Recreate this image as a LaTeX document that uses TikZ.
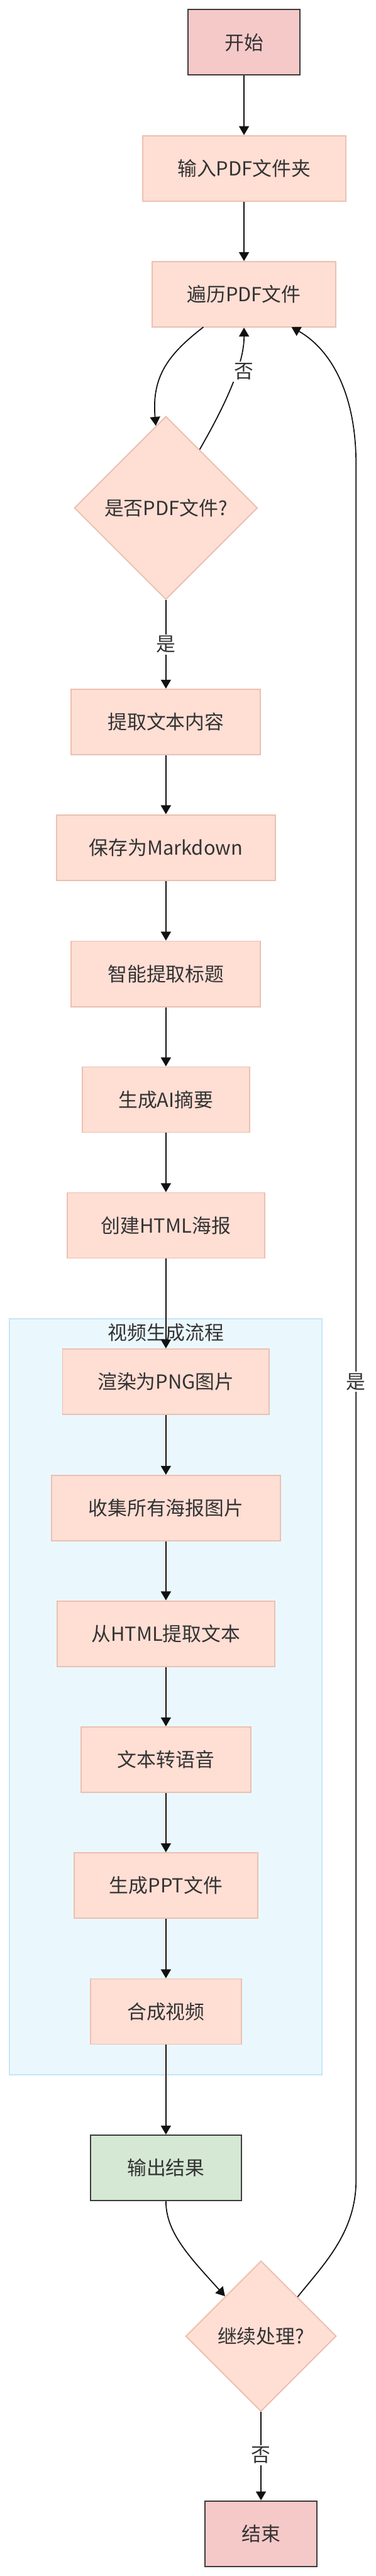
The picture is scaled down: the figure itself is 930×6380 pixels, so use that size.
\documentclass[tikz,border=0pt]{standalone}
\usepackage{fontspec}
\setmainfont{Noto Sans CJK SC}
\usetikzlibrary{shapes.geometric,arrows.meta}
\definecolor{procfill}{HTML}{FFDED4}
\definecolor{procdraw}{HTML}{EBC0B0}
\definecolor{termfill}{HTML}{F6C9C9}
\definecolor{outfill}{HTML}{D5E8D4}
\definecolor{darkdraw}{HTML}{3C3C3C}
\definecolor{clfill}{HTML}{EAF8FE}
\definecolor{cldraw}{HTML}{C5E6F4}
\definecolor{txt}{HTML}{333333}
\definecolor{edgecol}{HTML}{111111}
\begin{document}
\begin{tikzpicture}[x=0.5pt,y=-0.5pt,
  font=\fontsize{24}{28}\selectfont,
  proc/.style={rectangle, draw=procdraw, fill=procfill, line width=1.5pt, text=txt, minimum height=81pt, inner sep=0pt},
  term/.style={proc, draw=darkdraw, fill=termfill},
  outp/.style={proc, draw=darkdraw, fill=outfill},
  dec/.style={diamond, aspect=1, draw=procdraw, fill=procfill, line width=1.5pt, text=txt, inner sep=0pt},
  conn/.style={draw=edgecol, line width=1.35pt, -{Triangle[length=11pt,width=12.5pt]}},
  lbl/.style={fill=white, text=txt, inner sep=2pt},
  cluster/.style={draw=cldraw, fill=clfill, line width=1.5pt}]
\useasboundingbox (0,0) rectangle (930,6380);
\fill[white] (0,0) rectangle (930,6380);

% cluster
\draw[cluster] (23,3266) rectangle (798,5138);
\node[text=txt] (cltitle) at (411,3301) {视频生成流程};

% nodes
\node[term, minimum width=138.5pt] (start) at (604.5,105) {开始};
\node[proc, minimum width=251.5pt] (input) at (604.5,417) {输入PDF文件夹};
\node[proc, minimum width=227.5pt] (trav) at (604.5,729) {遍历PDF文件};
\node[dec, minimum width=227pt, minimum height=227pt] (ispdf) at (411,1258) {是否PDF文件?};
\node[proc, minimum width=234.5pt] (extract) at (411,1788) {提取文本内容};
\node[proc, minimum width=271pt] (md) at (411,2099) {保存为Markdown};
\node[proc, minimum width=234.5pt] (title) at (411,2412) {智能提取标题};
\node[proc, minimum width=207.5pt] (ai) at (411,2723.5) {生成AI摘要};
\node[proc, minimum width=245pt] (html) at (411,3035) {创建HTML海报};
\node[proc, minimum width=256pt] (render) at (411,3422) {渲染为PNG图片};
\node[proc, minimum width=283pt] (collect) at (411,3735) {收集所有海报图片};
\node[proc, minimum width=269.5pt] (fromhtml) at (411,4046) {从HTML提取文本};
\node[proc, minimum width=210pt] (tts) at (411,4358) {文本转语音};
\node[proc, minimum width=227pt] (ppt) at (411,4670) {生成PPT文件};
\node[proc, minimum width=186.5pt] (video) at (411,4982) {合成视频};
\node[outp, minimum width=186.5pt] (output) at (411,5369) {输出结果};
\node[dec, minimum width=186.5pt, minimum height=186.5pt] (cont) at (646.5,5786) {继续处理?};
\node[term, minimum width=138.5pt] (end) at (646.5,6275) {结束};

% edges
\draw[conn] (start) -- (input);
\draw[conn] (input) -- (trav);
\coordinate (travsw) at (504,810);
\draw[conn] (travsw) .. controls (420,875) and (375,930) .. (ispdf.97);
\draw[conn] (ispdf.60) .. controls (560,1000) and (605,900) .. (trav.south);
\node[lbl] (no1) at (604,920) {否};
\draw[conn] (ispdf.south) -- (extract.north);
\node[lbl] (yes1) at (411,1596) {是};
\draw[conn] (extract) -- (md);
\draw[conn] (md) -- (title);
\draw[conn] (title) -- (ai);
\draw[conn] (ai) -- (html);
\draw[conn] (html) -- (render);
\draw[conn] (render) -- (collect);
\draw[conn] (collect) -- (fromhtml);
\draw[conn] (fromhtml) -- (tts);
\draw[conn] (tts) -- (ppt);
\draw[conn] (ppt) -- (video);
\draw[conn] (video) -- (output);
\draw[conn] (output.south) .. controls (411,5530) and (470,5590) .. (cont.132);
\coordinate (travse) at (722,810);
\draw[conn] (cont.47) .. controls (800,5610) and (882,5530) .. (882,5400)
  -- (882,1150) .. controls (882,960) and (810,860) .. (travse);
\node[lbl] (yes2) at (882,3422) {是};
\draw[conn] (cont.south) -- (end.north);
\node[lbl] (no2) at (646.5,6081) {否};
\end{tikzpicture}
\end{document}
